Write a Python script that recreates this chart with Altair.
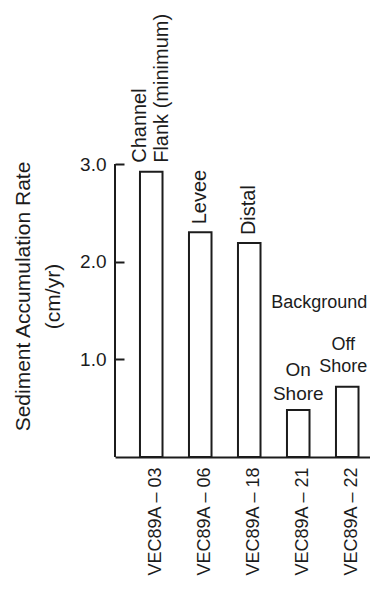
import altair as alt
import pandas as pd

stations = ["VEC89A – 03", "VEC89A – 06", "VEC89A – 18", "VEC89A – 21", "VEC89A – 22"]
rates = [2.92, 2.30, 2.19, 0.48, 0.72]
y_ticks = [1.0, 2.0, 3.0]

# two-line rotated annotation above the channel flank bar
flank_station = ["VEC89A – 03"]
flank_label = [["Channel", "Flank (minimum)"]]
flank_value = [2.92]

# single-line rotated annotations
rot_stations = ["VEC89A – 06", "VEC89A – 18"]
rot_labels = ["Levee", "Distal"]
rot_values = [2.30, 2.19]

# annotations above background bars (horizontal)
on_station = ["VEC89A – 21"]
on_label = [["On", "Shore"]]
on_value = [0.48]
off_station = ["VEC89A – 22"]
off_label = [["Off", "Shore"]]
off_value = [0.72]

group_label = "Background"
group_station = "VEC89A – 21"
group_level = 1.58

FONT = "Liberation Sans"
INK = "#1c1c1c"

bars_df = pd.DataFrame({"station": stations, "rate": rates})
flank_df = pd.DataFrame({"station": flank_station, "label": flank_label, "rate": flank_value})
rot_df = pd.DataFrame({"station": rot_stations, "label": rot_labels, "rate": rot_values})
on_df = pd.DataFrame({"station": on_station, "label": on_label, "rate": on_value})
off_df = pd.DataFrame({"station": off_station, "label": off_label, "rate": off_value})
grp_df = pd.DataFrame({"station": [group_station], "label": [group_label], "rate": [group_level]})

xscale = alt.Scale(domain=stations, paddingInner=0.54, paddingOuter=0.372, align=0.685)
yscale = alt.Scale(domain=[0, 3], nice=False, zero=True)

x_enc = alt.X(
    "station:N",
    scale=xscale,
    sort=stations,
    axis=alt.Axis(
        title=None,
        labelAngle=270,
        labelFontSize=18,
        labelFont=FONT,
        labelColor=INK,
        labelPadding=10,
        labelOffset=5,
        ticks=False,
        domain=True,
        domainColor=INK,
        domainWidth=2,
        labelLimit=300,
    ),
)
y_enc = alt.Y(
    "rate:Q",
    scale=yscale,
    axis=alt.Axis(
        title=["Sediment Accumulation Rate", "(cm/yr)"],
        titleFont=FONT,
        titleFontSize=21,
        titleFontWeight="normal",
        titleColor=INK,
        titleLineHeight=30,
        titleAngle=270,
        titleAlign="center",
        titleBaseline="middle",
        titleX=-101,
        titleY=132,
        values=y_ticks,
        format=".1f",
        labelFont=FONT,
        labelFontSize=19,
        labelColor=INK,
        labelPadding=9,
        offset=-9,
        tickSize=9,
        tickWidth=2,
        tickColor=INK,
        domain=False,
        grid=False,
    ),
)

bars = alt.Chart(bars_df).mark_bar(fill="white", stroke=INK, strokeWidth=2).encode(
    x=x_enc, y=y_enc
)

yline = alt.Chart(pd.DataFrame({"lo": [0.0], "hi": [3.0]})).mark_rule(
    color=INK, strokeWidth=2
).encode(x=alt.value(0), y=alt.Y("lo:Q", scale=yscale), y2="hi:Q")

flank_text = alt.Chart(flank_df).mark_text(
    angle=270, align="left", baseline="middle", dx=9, dy=-11, font=FONT, fontSize=20,
    lineHeight=22, color=INK
).encode(x=alt.X("station:N", scale=xscale), y=alt.Y("rate:Q", scale=yscale), text="label")

rot_text = alt.Chart(rot_df).mark_text(
    angle=270, align="left", baseline="middle", dx=8, font=FONT, fontSize=20, color=INK
).encode(x=alt.X("station:N", scale=xscale), y=alt.Y("rate:Q", scale=yscale), text="label")

on_text = alt.Chart(on_df).mark_text(
    align="center", baseline="middle", dy=-40, font=FONT, fontSize=19,
    lineHeight=24, color=INK
).encode(x=alt.X("station:N", scale=xscale), y=alt.Y("rate:Q", scale=yscale), text="label")

off_text = alt.Chart(off_df).mark_text(
    align="center", baseline="middle", dy=-42, dx=-4, font=FONT, fontSize=18,
    lineHeight=22, color=INK
).encode(x=alt.X("station:N", scale=xscale), y=alt.Y("rate:Q", scale=yscale), text="label")

grp_text = alt.Chart(grp_df).mark_text(
    align="left", baseline="middle", dx=-27, font=FONT, fontSize=18, color=INK
).encode(x=alt.X("station:N", scale=xscale), y=alt.Y("rate:Q", scale=yscale), text="label")

chart = alt.layer(bars, yline, flank_text, rot_text, on_text, off_text, grp_text).properties(
    width=255,
    height=293,
    autosize=alt.AutoSizeParams(type="none"),
    padding={"left": 107, "top": 156, "right": 0, "bottom": 122},
    background="white",
).configure_view(stroke=None)

chart.save("out.html", embed_options={"renderer": "svg", "actions": False})
